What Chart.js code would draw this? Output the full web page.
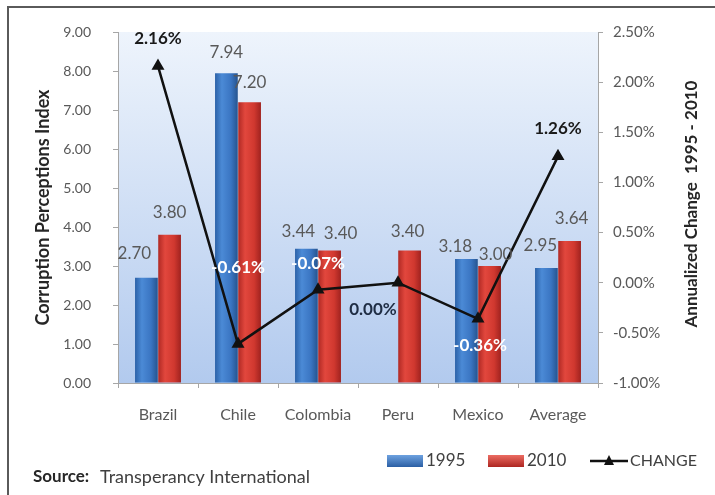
<!DOCTYPE html>
<html>
<head>
<meta charset="utf-8">
<script src="https://cdn.jsdelivr.net/npm/chart.js@4/dist/chart.umd.min.js"></script>
<style>
  html, body { margin: 0; padding: 0; background: #fff; }
  #wrap { width: 715px; height: 495px; }
</style>
</head>
<body>
<div id="wrap"><canvas id="cpi" width="715" height="495"></canvas></div>
<script>
// data
const categories = ['Brazil', 'Chile', 'Colombia', 'Peru', 'Mexico', 'Average']
const cpi1995 = [2.70, 7.94, 3.44, null, 3.18, 2.95]
const cpi2010 = [3.80, 7.20, 3.40, 3.40, 3.00, 3.64]
const change = [2.16, -0.61, -0.07, 0.00, -0.36, 1.26]
const seriesNames = ['1995', '2010', 'CHANGE']

// where each label sits relative to its bar top / point (like excel placed them)
const barLabelShift = [
    [[-12, -24], [0, -21], [-8, -17], [0, 0], [-11, -12], [-6, -22]],
    [[0, -22], [0, -20], [11, -17], [-2, -19], [6, -11], [2, -23]]
]
const lineLabelShift = [[0, -28], [0, -76], [0, -26], [-25, 27], [2, 27], [0, -28]]
const lineLabelColor = ['#1a1a1a', '#ffffff', '#ffffff', '#1f2d44', '#ffffff', '#1a1a1a']

const FONT = 'Lato, "Open Sans", sans-serif'
const GREY = '#595959'

function barGradient(ctx, x0, x1, blue) {
    const g = ctx.createLinearGradient(x0, 0, x1, 0)
    if (blue) {
        g.addColorStop(0, '#2c62a8')
        g.addColorStop(0.3, '#4b8ad6')
        g.addColorStop(0.7, '#3a75c2')
        g.addColorStop(1, '#26548f')
    } else {
        g.addColorStop(0, '#b02924')
        g.addColorStop(0.3, '#e2473d')
        g.addColorStop(0.7, '#d0382f')
        g.addColorStop(1, '#a0221f')
    }
    return g
}

const decor = {
    id: 'decor',
    beforeDraw(chart) {
        const ctx = chart.ctx
        const a = chart.chartArea
        ctx.save()
        ctx.fillStyle = '#fff'
        ctx.fillRect(0, 0, chart.width, chart.height)
        // outer frame
        ctx.strokeStyle = '#5a5a5a'
        ctx.lineWidth = 2
        ctx.beginPath()
        ctx.moveTo(8, chart.height)
        ctx.lineTo(8, 7)
        ctx.lineTo(chart.width, 7)
        ctx.stroke()
        // plot background
        const g = ctx.createLinearGradient(0, a.top, 0, a.bottom)
        g.addColorStop(0, '#eef4fc')
        g.addColorStop(1, '#b2caee')
        ctx.fillStyle = g
        ctx.fillRect(a.left, a.top, a.right - a.left, a.bottom - a.top)
        ctx.restore()
    },
    beforeDatasetsDraw(chart) {
        const ctx = chart.ctx
        ;[0, 1].forEach(di => {
            chart.getDatasetMeta(di).data.forEach(el => {
                const w = el.width
                el.options = Object.assign({}, el.options, {
                    backgroundColor: barGradient(ctx, el.x - w / 2, el.x + w / 2, di === 0)
                })
            })
        })
    },
    afterDatasetsDraw(chart) {
        const ctx = chart.ctx
        ctx.save()
        ctx.textAlign = 'center'
        ctx.textBaseline = 'middle'
        ctx.font = '17px ' + FONT
        ctx.fillStyle = GREY
        ;[cpi1995, cpi2010].forEach((vals, di) => {
            const meta = chart.getDatasetMeta(di)
            vals.forEach((v, i) => {
                if (v === null) return
                const el = meta.data[i]
                const s = barLabelShift[di][i]
                ctx.fillText(v.toFixed(2), el.x + s[0], el.y + s[1])
            })
        })
        ctx.font = 'bold 17px ' + FONT
        const lmeta = chart.getDatasetMeta(2)
        change.forEach((v, i) => {
            const p = lmeta.data[i]
            const s = lineLabelShift[i]
            ctx.fillStyle = lineLabelColor[i]
            ctx.fillText(v.toFixed(2) + '%', p.x + s[0], p.y + s[1])
        })
        ctx.restore()
    },
    afterDraw(chart) {
        const ctx = chart.ctx
        ctx.save()
        // right axis title
        ctx.translate(692, 204)
        ctx.rotate(-Math.PI / 2)
        ctx.font = 'bold 17px ' + FONT
        ctx.fillStyle = '#262626'
        ctx.textAlign = 'center'
        ctx.textBaseline = 'middle'
        ctx.fillText('Annualized Change  1995 - 2010', 0, 0)
        ctx.restore()

        // legend
        ctx.save()
        const ly = 461
        ctx.font = '17px ' + FONT
        ctx.textBaseline = 'middle'
        ctx.textAlign = 'left'
        const boxes = [[387, true], [488, false]]
        boxes.forEach((b, k) => {
            const g = ctx.createLinearGradient(0, ly - 6, 0, ly + 6)
            if (b[1]) { g.addColorStop(0, '#6ea2e0'); g.addColorStop(1, '#2b5fa4') }
            else { g.addColorStop(0, '#ec6c63'); g.addColorStop(1, '#ad2621') }
            ctx.fillStyle = g
            ctx.fillRect(b[0], ly - 6, 36, 12)
            ctx.fillStyle = '#404040'
            ctx.fillText(seriesNames[k], b[0] + 39, ly)
        })
        ctx.strokeStyle = '#111'
        ctx.lineWidth = 2.5
        ctx.beginPath()
        ctx.moveTo(590, ly)
        ctx.lineTo(628, ly)
        ctx.stroke()
        ctx.fillStyle = '#111'
        ctx.beginPath()
        ctx.moveTo(609, ly - 6)
        ctx.lineTo(614, ly + 4)
        ctx.lineTo(604, ly + 4)
        ctx.closePath()
        ctx.fill()
        ctx.fillStyle = '#404040'
        ctx.font = '16px ' + FONT
        ctx.fillText(seriesNames[2], 630, ly)

        // source note
        ctx.font = 'bold 17px ' + FONT
        ctx.fillStyle = '#262626'
        ctx.fillText('Source:', 33, 477)
        ctx.font = '18px ' + FONT
        ctx.fillStyle = '#404040'
        ctx.fillText('Transperancy International', 100, 477)
        ctx.restore()
    }
}

const axisGrey = '#a6a6a6'

new Chart(document.getElementById('cpi'), {
    type: 'bar',
    data: {
        labels: categories,
        datasets: [
            { label: seriesNames[0], data: cpi1995, backgroundColor: '#3a76c4', yAxisID: 'y', order: 1,
              categoryPercentage: 0.58, barPercentage: 0.98 },
            { label: seriesNames[1], data: cpi2010, backgroundColor: '#d23a31', yAxisID: 'y', order: 1,
              categoryPercentage: 0.58, barPercentage: 0.98 },
            { type: 'line', label: seriesNames[2], data: change, yAxisID: 'y1', order: 0,
              borderColor: '#111', borderWidth: 2.5, pointStyle: 'triangle', pointRadius: 5,
              pointBackgroundColor: '#111', pointBorderColor: '#111', tension: 0 }
        ]
    },
    options: {
        responsive: false,
        animation: false,
        layout: { padding: { top: 32, bottom: 72, left: 20, right: 0 } },
        plugins: {
            legend: { display: false },
            tooltip: { enabled: false }
        },
        scales: {
            x: {
                grid: { drawOnChartArea: false, tickLength: 5, color: axisGrey, offset: true },
                border: { color: axisGrey },
                ticks: { color: GREY, font: { family: FONT, size: 16 }, padding: 17 },
                afterFit(s) { s.height = 40 }
            },
            y: {
                position: 'left',
                min: 0, max: 9,
                grid: { drawOnChartArea: false, tickLength: 5, color: axisGrey },
                border: { color: axisGrey },
                ticks: { stepSize: 1, color: GREY, font: { family: FONT, size: 14 }, padding: 22,
                         callback: v => v.toFixed(2) },
                title: { display: true, text: 'Corruption Perceptions Index', color: '#262626',
                         font: { family: FONT, size: 18, weight: 'bold' }, padding: { top: 12 } },
                afterFit(s) { s.width = 98 }
            },
            y1: {
                position: 'right',
                min: -1, max: 2.5,
                grid: { drawOnChartArea: false, tickLength: 5, color: axisGrey },
                border: { color: axisGrey },
                ticks: { stepSize: 0.5, color: GREY, font: { family: FONT, size: 15 }, padding: 10,
                         callback: v => v.toFixed(2) + '%' },
                afterFit(s) { s.width = 117 }
            }
        }
    },
    plugins: [decor]
})
</script>
</body>
</html>
